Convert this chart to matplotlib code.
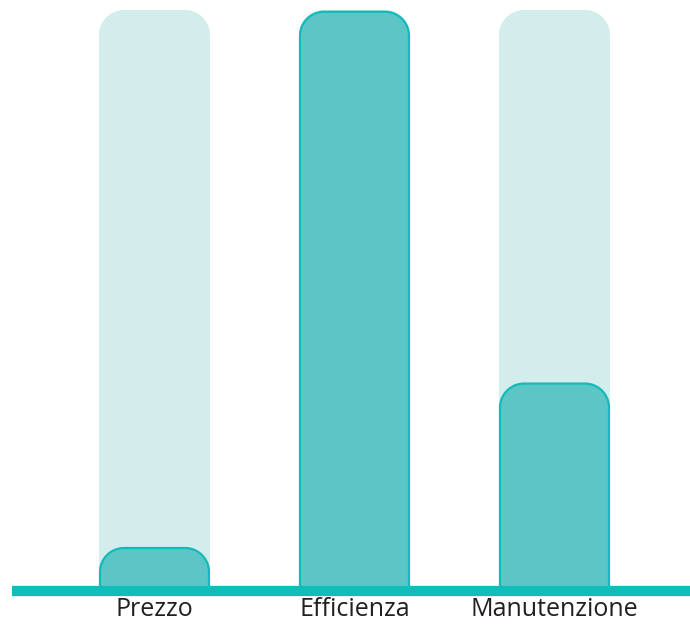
import numpy as np
import matplotlib
matplotlib.use('Agg')
import matplotlib.pyplot as plt
from matplotlib.path import Path
from matplotlib.patches import PathPatch

# data
categories = ['Prezzo', 'Efficienza', 'Manutenzione']
values = [7.7, 100, 36]
max_value = 100

BG = '#d3ecec'
FG = '#5cc6c6'
EDGE = '#14baba'
BASE = '#11bdb8'


def rounded_top_bar(ax, xc, width, height, r_px, **kw):
    # bar with rounded top corners, radius given in pixels
    sx = ax.transData.transform((1, 0))[0] - ax.transData.transform((0, 0))[0]
    sy = ax.transData.transform((0, 1))[1] - ax.transData.transform((0, 0))[1]
    rx, ry = r_px / sx, r_px / sy
    ry = min(ry, height)
    x0, x1 = xc - width / 2, xc + width / 2
    t = np.linspace(np.pi, np.pi / 2, 20)
    left = np.c_[x0 + rx + rx * np.cos(t), height - ry + ry * np.sin(t)]
    t = np.linspace(np.pi / 2, 0, 20)
    right = np.c_[x1 - rx + rx * np.cos(t), height - ry + ry * np.sin(t)]
    pts = np.vstack([[x0, 0], left, right, [x1, 0]])
    patch = PathPatch(Path(pts), **kw)
    ax.add_patch(patch)
    return patch


fig = plt.figure(figsize=(6.9, 6.24), dpi=100)
ax = fig.add_axes([12 / 690, 33 / 624, 678 / 690, 591 / 624])
ax.set_xlim(-0.7125, 2.6775)
ax.set_ylim(0, max_value * 591 / 581)

x = np.arange(len(categories))
bar_w = 0.555
for xi, v in zip(x, values):
    rounded_top_bar(ax, xi, bar_w, max_value, 25, facecolor=BG, edgecolor='none', zorder=1)
    rounded_top_bar(ax, xi, bar_w - 0.01, v - 0.3, 24, facecolor=FG, edgecolor=EDGE,
                    linewidth=1.6, zorder=2)

ax.axhline(0, color=BASE, linewidth=7.4, zorder=3, clip_on=False, solid_capstyle='butt')

ax.set_xticks(x)
ax.set_xticklabels(categories, fontsize=18, family=['Open Sans', 'DejaVu Sans'], color='#231f20')
ax.tick_params(axis='x', length=0, pad=4)
ax.set_yticks([])
for s in ax.spines.values():
    s.set_visible(False)
ax.patch.set_alpha(0)

fig.savefig('out.png', dpi=100)
